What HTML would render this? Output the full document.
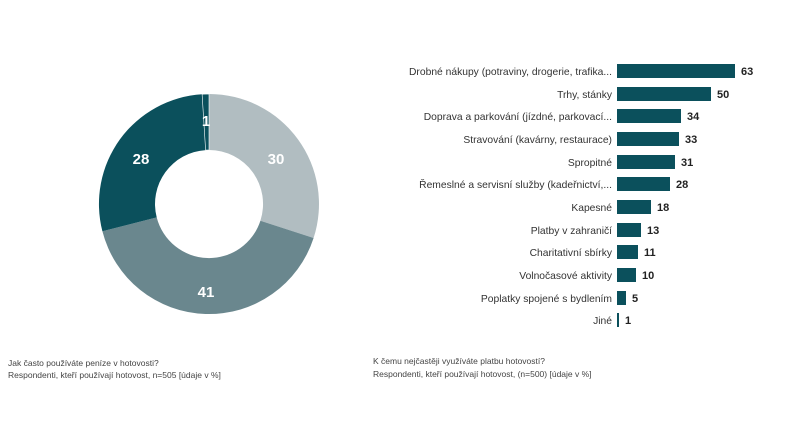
<!DOCTYPE html>
<html><head><meta charset="utf-8"><style>
body{margin:0;width:800px;height:438px;background:#fff;overflow:hidden;font-family:"Liberation Sans",sans-serif}
</style></head><body>
<svg width="800" height="438" xmlns="http://www.w3.org/2000/svg" font-family="Liberation Sans, sans-serif">
<g transform="translate(209,204)">
<path d="M0,-110 A110,110 0 0,1 104.6,34 L51.4,16.7 A54,54 0 0,0 0,-54 Z" fill="#b1bdc1"/>
<path d="M104.6,34 A110,110 0 0,1 -106.6,27.3 L-52.3,13.4 A54,54 0 0,0 51.4,16.7 Z" fill="#6a878e"/>
<path d="M-106.6,27.3 A110,110 0 0,1 -6.9,-109.8 L-3.4,-53.9 A54,54 0 0,0 -52.3,13.4 Z" fill="#0b505c"/>
<path d="M-6.9,-109.8 A110,110 0 0,1 0,-110 L0,-54 A54,54 0 0,0 -3.4,-53.9 Z" fill="#0b505c" stroke="#fff" stroke-width="0.6"/>
<g fill="#fff" font-weight="bold" font-size="15" text-anchor="middle">
<text x="67" y="-40">30</text>
<text x="-3" y="93">41</text>
<text x="-68" y="-40">28</text>
<text x="-3" y="-78">1</text>
</g></g>
<g font-size="10.3" fill="#333" text-anchor="end">
<text x="612" y="75">Drobné nákupy (potraviny, drogerie, trafika...</text>
<text x="612" y="98">Trhy, stánky</text>
<text x="612" y="120">Doprava a parkování (jízdné, parkovací...</text>
<text x="612" y="143">Stravování (kavárny, restaurace)</text>
<text x="612" y="166">Spropitné</text>
<text x="612" y="188">Řemeslné a servisní služby (kadeřnictví,...</text>
<text x="612" y="211">Kapesné</text>
<text x="612" y="234">Platby v zahraničí</text>
<text x="612" y="256">Charitativní sbírky</text>
<text x="612" y="279">Volnočasové aktivity</text>
<text x="612" y="302">Poplatky spojené s bydlením</text>
<text x="612" y="324">Jiné</text>
</g>
<g fill="#0b505c">
<rect x="617" y="64" width="118" height="14"/>
<rect x="617" y="87" width="94" height="14"/>
<rect x="617" y="109" width="64" height="14"/>
<rect x="617" y="132" width="62" height="14"/>
<rect x="617" y="155" width="58" height="14"/>
<rect x="617" y="177" width="53" height="14"/>
<rect x="617" y="200" width="34" height="14"/>
<rect x="617" y="223" width="24" height="14"/>
<rect x="617" y="245" width="21" height="14"/>
<rect x="617" y="268" width="19" height="14"/>
<rect x="617" y="291" width="9" height="14"/>
<rect x="617" y="313" width="2" height="14"/>
</g>
<g font-size="11" font-weight="bold" fill="#222">
<text x="741" y="75">63</text>
<text x="717" y="98">50</text>
<text x="687" y="120">34</text>
<text x="685" y="143">33</text>
<text x="681" y="166">31</text>
<text x="676" y="188">28</text>
<text x="657" y="211">18</text>
<text x="647" y="234">13</text>
<text x="644" y="256">11</text>
<text x="642" y="279">10</text>
<text x="632" y="302">5</text>
<text x="625" y="324">1</text>
</g>
<g font-size="8.5" fill="#444">
<text x="8" y="366">Jak často používáte peníze v hotovosti?</text>
<text x="8" y="378">Respondenti, kteří používají hotovost, n=505 [údaje v %]</text>
<text x="373" y="364">K čemu nejčastěji využíváte platbu hotovostí?</text>
<text x="373" y="377">Respondenti, kteří používají hotovost, (n=500) [údaje v %]</text>
</g>
</svg>
</body></html>
